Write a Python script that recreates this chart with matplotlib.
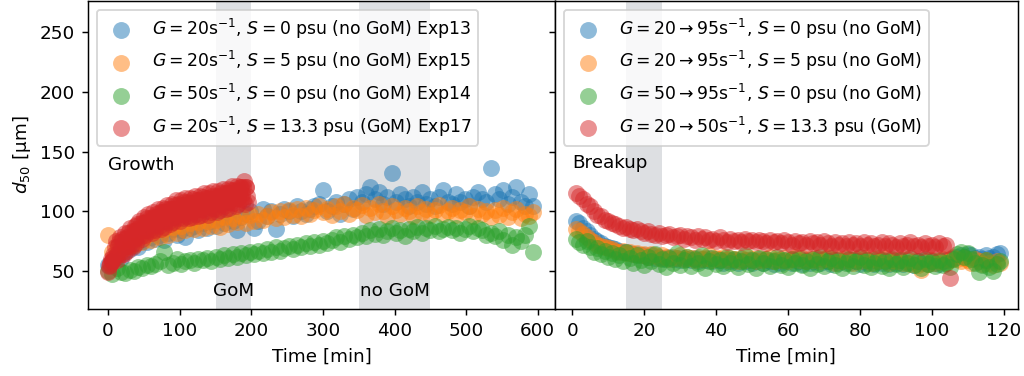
import numpy as np
import matplotlib.pyplot as plt

# growth phase (left): Exp13/15/14 every 6 min, Exp17 every minute
t_grow = np.arange(0, 600, 6)
t_grow_red = np.arange(0, 196, 1)
exp13 = [55, 58, 62, 61, 66, 68, 72, 70, 75, 74,
         78, 77, 80, 76, 82, 85, 80, 84, 78, 86,
         88, 84, 90, 86, 92, 88, 94, 90, 96, 92,
         84, 95, 98, 100, 86, 92, 102, 96, 100, 85,
         98, 102, 100, 96, 104, 100, 98, 102, 104, 106,
         118, 100, 104, 108, 98, 106, 110, 102, 112, 108,
         114, 120, 110, 116, 106, 112, 132, 108, 114, 110,
         104, 112, 108, 116, 106, 110, 104, 112, 118, 108,
         106, 114, 108, 110, 104, 112, 116, 110, 108, 136,
         114, 110, 118, 106, 112, 120, 108, 104, 114, 104]
exp15 = [80, 66, 70, 74, 69, 76, 72, 78, 74, 80,
         76, 83, 78, 85, 80, 87, 82, 88, 84, 90,
         85, 91, 86, 92, 88, 93, 87, 95, 89, 94,
         91, 96, 90, 97, 92, 98, 93, 96, 99, 94,
         100, 95, 101, 97, 102, 96, 103, 98, 101, 104,
         99, 102, 97, 104, 100, 106, 98, 103, 101, 105,
         97, 103, 99, 106, 100, 96, 104, 101, 98, 103,
         100, 96, 104, 99, 102, 97, 101, 105, 98, 100,
         103, 97, 101, 99, 104, 96, 102, 98, 100, 95,
         101, 97, 103, 95, 99, 102, 94, 98, 96, 99]
exp14 = [50, 47, 52, 49, 48, 51, 50, 53, 52, 55,
         54, 56, 58, 66, 55, 57, 60, 56, 58, 59,
         57, 60, 59, 61, 58, 62, 60, 63, 61, 64,
         62, 65, 63, 66, 64, 67, 65, 68, 66, 70,
         67, 69, 71, 68, 72, 70, 73, 71, 74, 72,
         75, 73, 76, 78, 74, 79, 77, 80, 78, 82,
         79, 84, 81, 85, 80, 83, 86, 82, 84, 79,
         85, 83, 87, 82, 86, 84, 88, 83, 85, 87,
         84, 86, 82, 85, 88, 83, 86, 84, 80, 82,
         79, 83, 76, 80, 72, 78, 75, 80, 88, 66]
exp17 = [49, 54, 57, 55, 60, 58, 58, 63, 62, 61,
         70, 75, 64, 59, 71, 74, 65, 78, 69, 64,
         77, 72, 64, 77, 82, 71, 67, 78, 82, 72,
         86, 76, 71, 83, 78, 70, 83, 88, 77, 73,
         85, 89, 79, 92, 83, 78, 90, 85, 77, 90,
         95, 84, 80, 91, 94, 84, 98, 88, 83, 94,
         91, 82, 95, 99, 89, 84, 95, 98, 89, 102,
         92, 88, 99, 94, 85, 99, 103, 92, 87, 99,
         102, 92, 105, 96, 91, 102, 97, 89, 102, 106,
         95, 91, 102, 105, 95, 109, 99, 94, 106, 101,
         92, 105, 109, 98, 94, 105, 108, 98, 111, 101,
         96, 108, 103, 94, 107, 111, 100, 95, 107, 110,
         100, 113, 103, 98, 109, 105, 96, 109, 113, 102,
         97, 108, 112, 102, 115, 105, 100, 111, 106, 97,
         111, 115, 104, 99, 110, 113, 103, 117, 107, 102,
         113, 108, 99, 113, 117, 106, 101, 112, 115, 106,
         119, 109, 104, 115, 111, 102, 115, 119, 108, 103,
         115, 118, 108, 121, 111, 107, 118, 113, 104, 117,
         121, 111, 106, 117, 120, 110, 120, 114, 109, 120,
         125, 106, 120, 120, 113, 108]

# breakup phase (right), every minute
t_brk = np.arange(1, 120)
t_brk_red = np.arange(1, 106)
brk_b = [92, 90, 86, 83, 80, 77, 75, 73, 71, 70,
         69, 68, 67, 66, 66, 65, 64, 64, 63, 63,
         62, 63, 61, 62, 61, 60, 62, 60, 61, 59,
         61, 60, 59, 61, 58, 60, 59, 61, 58, 60,
         59, 57, 60, 58, 59, 57, 60, 58, 59, 57,
         58, 60, 57, 59, 58, 56, 59, 57, 58, 60,
         57, 59, 58, 56, 59, 57, 58, 60, 57, 59,
         58, 56, 59, 57, 58, 60, 57, 59, 58, 56,
         58, 57, 59, 56, 58, 57, 59, 56, 58, 57,
         59, 56, 58, 57, 55, 58, 57, 59, 56, 58,
         57, 56, 58, 59, 60, 61, 62, 63, 62, 64,
         63, 61, 62, 60, 63, 61, 62, 64, 65]
brk_o = [85, 83, 81, 78, 76, 74, 72, 71, 70, 69,
         68, 67, 66, 67, 65, 66, 64, 65, 63, 64,
         62, 64, 63, 61, 63, 62, 60, 62, 61, 63,
         60, 62, 61, 59, 62, 60, 61, 63, 59, 61,
         60, 62, 59, 61, 60, 58, 61, 59, 62, 60,
         58, 61, 59, 60, 62, 58, 60, 59, 61, 58,
         60, 62, 59, 61, 58, 60, 59, 61, 58, 60,
         62, 59, 57, 60, 58, 61, 59, 57, 60, 58,
         61, 59, 57, 60, 58, 59, 61, 57, 59, 58,
         60, 57, 59, 56, 58, 55, 51, 58, 56, 59,
         57, 58, 60, 57, 59, 62, 60, 58, 61, 59,
         57, 60, 58, 56, 59, 57, 55, 58, 57]
brk_g = [77, 74, 72, 75, 70, 66, 69, 64, 67, 62,
         65, 60, 63, 58, 66, 61, 57, 63, 59, 55,
         62, 58, 64, 56, 60, 53, 61, 57, 65, 55,
         59, 62, 54, 60, 57, 63, 52, 58, 61, 56,
         59, 54, 62, 57, 60, 53, 58, 63, 56, 59,
         52, 61, 57, 60, 54, 58, 62, 55, 59, 53,
         60, 57, 61, 55, 58, 52, 60, 56, 62, 54,
         58, 61, 55, 59, 52, 57, 60, 54, 58, 62,
         55, 59, 53, 57, 61, 54, 58, 52, 60, 56,
         59, 53, 57, 61, 55, 58, 52, 60, 56, 58,
         54, 59, 55, 57, 53, 60, 64, 66, 62, 65,
         60, 57, 49, 55, 59, 53, 50, 56, 58]
brk_r = [115, 113, 110, 106, 104, 100, 97, 96, 93, 92,
         90, 89, 88, 86, 87, 85, 84, 85, 83, 82,
         83, 81, 80, 82, 79, 80, 81, 78, 79, 80,
         77, 79, 78, 76, 79, 77, 78, 76, 77, 75,
         78, 76, 74, 77, 75, 76, 74, 77, 75, 76,
         74, 76, 75, 73, 76, 74, 75, 73, 76, 74,
         72, 75, 73, 74, 72, 75, 73, 74, 72, 75,
         73, 71, 74, 72, 73, 71, 74, 72, 73, 71,
         74, 72, 73, 71, 72, 74, 71, 73, 72, 70,
         73, 71, 72, 74, 71, 72, 70, 73, 71, 72,
         70, 73, 71, 72, 44]

labels_grow = [r'$G=20\mathrm{s}^{-1}$, $S=0$ psu (no GoM) Exp13',
               r'$G=20\mathrm{s}^{-1}$, $S=5$ psu (no GoM) Exp15',
               r'$G=50\mathrm{s}^{-1}$, $S=0$ psu (no GoM) Exp14',
               r'$G=20\mathrm{s}^{-1}$, $S=13.3$ psu (GoM) Exp17']
labels_brk = [r'$G=20\rightarrow95\mathrm{s}^{-1}$, $S=0$ psu (no GoM)',
              r'$G=20\rightarrow95\mathrm{s}^{-1}$, $S=5$ psu (no GoM)',
              r'$G=50\rightarrow95\mathrm{s}^{-1}$, $S=0$ psu (no GoM)',
              r'$G=20\rightarrow50\mathrm{s}^{-1}$, $S=13.3$ psu (GoM)']
colors = ['tab:blue', 'tab:orange', 'tab:green', 'tab:red']

dpi = 132
fig = plt.figure(figsize=(1024 / dpi, 376 / dpi), dpi=dpi)
gs = fig.add_gridspec(1, 2, width_ratios=[467, 463], wspace=0,
                      left=0.086, right=0.994, top=0.997, bottom=0.178)
ax1 = fig.add_subplot(gs[0])
ax2 = fig.add_subplot(gs[1], sharey=ax1)
plt.setp(ax2.get_yticklabels(), visible=False)

band = '#d5d7db'
ax1.axvspan(150, 200, color=band, alpha=0.8, lw=0, zorder=0)
ax1.axvspan(350, 450, color=band, alpha=0.8, lw=0, zorder=0)
ax2.axvspan(15, 25, color=band, alpha=0.8, lw=0, zorder=0)

ms = 85
grow = [(t_grow, exp13), (t_grow, exp15), (t_grow, exp14), (t_grow_red, exp17)]
for (tt, d), c, lab in zip(grow, colors, labels_grow):
    ax1.scatter(tt, d, s=ms, color=c, alpha=0.5, lw=0, label=lab)
brk = [(t_brk, brk_b), (t_brk, brk_o), (t_brk, brk_g), (t_brk_red, brk_r)]
for (tt, d), c, lab in zip(brk, colors, labels_brk):
    ax2.scatter(tt, d, s=ms, color=c, alpha=0.5, lw=0, label=lab)

ax1.text(175, 33.5, 'GoM', ha='center', va='center')
ax1.text(400, 33.5, 'no GoM', ha='center', va='center')
ax1.text(0, 139, 'Growth', ha='left', va='center')
ax2.text(0, 140, 'Breakup', ha='left', va='center')

ax1.set_xlim(-28, 624)
ax2.set_xlim(-4.8, 123.9)
ax1.set_ylim(18, 276)
ax1.set_xticks([0, 100, 200, 300, 400, 500, 600])
ax2.set_xticks([0, 20, 40, 60, 80, 100, 120])
ax1.set_yticks([50, 100, 150, 200, 250])
ax1.set_ylabel(r'$d_{50}$ [μm]')
ax1.set_xlabel('Time [min]')
ax2.set_xlabel('Time [min]')
ax1.legend(loc='upper left', fontsize=9.4)
ax2.legend(loc='upper left', fontsize=9.4)

fig.savefig('out.png', dpi=dpi)
